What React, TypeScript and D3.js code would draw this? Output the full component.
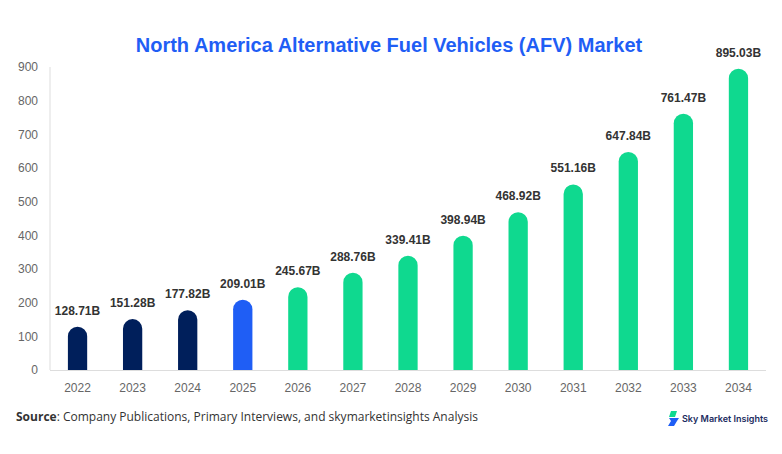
import { useEffect, useRef } from "react";
import * as d3 from "d3";

const years = ["2022", "2023", "2024", "2025", "2026", "2027", "2028", "2029", "2030", "2031", "2032", "2033", "2034"];
const values = [128.71, 151.28, 177.82, 209.01, 245.67, 288.76, 339.41, 398.94, 468.92, 551.16, 647.84, 761.47, 895.03];
const yTicks = [0, 100, 200, 300, 400, 500, 600, 700, 800, 900];

const NAVY = "#001f5b";
const BLUE = "#1f5ef5";
const GREEN = "#0fd98f";

function barColor(year: string) {
  const y = +year;
  if (y < 2025) return NAVY;
  if (y === 2025) return BLUE;
  return GREEN;
}

export default function App() {
  const ref = useRef<SVGSVGElement>(null);

  useEffect(() => {
    if (!ref.current) return;
    const svg = d3.select(ref.current);
    svg.selectAll("*").remove();

    const left = 50, right = 766, top = 67, bottom = 370;

    const x = d3.scaleBand().domain(years).range([left, right])
      .paddingInner(0.65).paddingOuter(0.325);
    const y = d3.scaleLinear().domain([0, 900]).range([bottom, top]);

    // title
    svg.append("text")
      .attr("x", 389).attr("y", 52)
      .attr("text-anchor", "middle")
      .attr("font-family", "'Liberation Sans', Arial, sans-serif")
      .attr("font-weight", "bold")
      .attr("font-size", 20)
      .attr("fill", BLUE)
      .text("North America Alternative Fuel Vehicles (AFV) Market");

    // axes lines
    svg.append("line")
      .attr("x1", left).attr("x2", left)
      .attr("y1", top).attr("y2", bottom)
      .attr("stroke", "#dddddd");
    svg.append("line")
      .attr("x1", left).attr("x2", right)
      .attr("y1", bottom + 0.5).attr("y2", bottom + 0.5)
      .attr("stroke", "#dddddd");

    // y tick labels
    svg.append("g")
      .selectAll("text")
      .data(yTicks)
      .enter()
      .append("text")
      .attr("x", 38)
      .attr("y", (d) => y(d))
      .attr("dy", "0.35em")
      .attr("text-anchor", "end")
      .attr("font-family", "'Liberation Sans', Arial, sans-serif")
      .attr("font-size", 12)
      .attr("fill", "#666666")
      .text((d) => d);

    // x tick labels
    svg.append("g")
      .selectAll("text")
      .data(years)
      .enter()
      .append("text")
      .attr("x", (d) => (x(d) ?? 0) + x.bandwidth() / 2)
      .attr("y", 392)
      .attr("text-anchor", "middle")
      .attr("font-family", "'Liberation Sans', Arial, sans-serif")
      .attr("font-size", 12)
      .attr("fill", "#666666")
      .text((d) => d);

    // bars with rounded tops
    const bw = x.bandwidth();
    const r = bw / 2;
    svg.append("g")
      .selectAll("path")
      .data(years)
      .enter()
      .append("path")
      .attr("fill", (d) => barColor(d))
      .attr("d", (d, i) => {
        const x0 = x(d) ?? 0;
        const yt = y(values[i]);
        const p = d3.path();
        p.moveTo(x0, bottom);
        p.lineTo(x0, yt + r);
        p.arc(x0 + r, yt + r, r, Math.PI, 0);
        p.lineTo(x0 + bw, bottom);
        p.closePath();
        return p.toString();
      });

    // value labels
    svg.append("g")
      .selectAll("text")
      .data(years)
      .enter()
      .append("text")
      .attr("x", (d) => (x(d) ?? 0) + bw / 2)
      .attr("y", (d, i) => y(values[i]) - 12)
      .attr("text-anchor", "middle")
      .attr("font-family", "'Liberation Sans', Arial, sans-serif")
      .attr("font-weight", "bold")
      .attr("font-size", 12)
      .attr("fill", "#333333")
      .text((d, i) => values[i].toFixed(2) + "B");

    // source
    const src = svg.append("text")
      .attr("x", 16).attr("y", 421)
      .attr("font-family", "'Open Sans', 'Noto Sans', sans-serif")
      .attr("font-size", 12)
      .attr("fill", "#333333");
    src.append("tspan").attr("font-weight", "bold").text("Source");
    src.append("tspan").text(": Company Publications, Primary Interviews, and skymarketinsights Analysis");

    // logo
    const logo = svg.append("g").attr("transform", "translate(668,411)");
    logo.append("path").attr("d", "M3,0 L9,0 L7,6 L1,6 Z").attr("fill", GREEN);
    logo.append("path").attr("d", "M1,7 L11,7 L9,10 L6,15 L0,15 L3,10 Z").attr("fill", BLUE);
    logo.append("text")
      .attr("x", 14).attr("y", 11)
      .attr("font-family", "Inter, 'Noto Sans', sans-serif")
      .attr("font-weight", 600)
      .attr("font-size", 9)
      .attr("fill", "#1a2b5e")
      .text("Sky Market Insights");
  }, []);

  return (
    <div style={{ width: 782, height: 454, margin: -8, background: "#ffffff" }}>
      <svg ref={ref} width={782} height={454}></svg>
    </div>
  );
}
